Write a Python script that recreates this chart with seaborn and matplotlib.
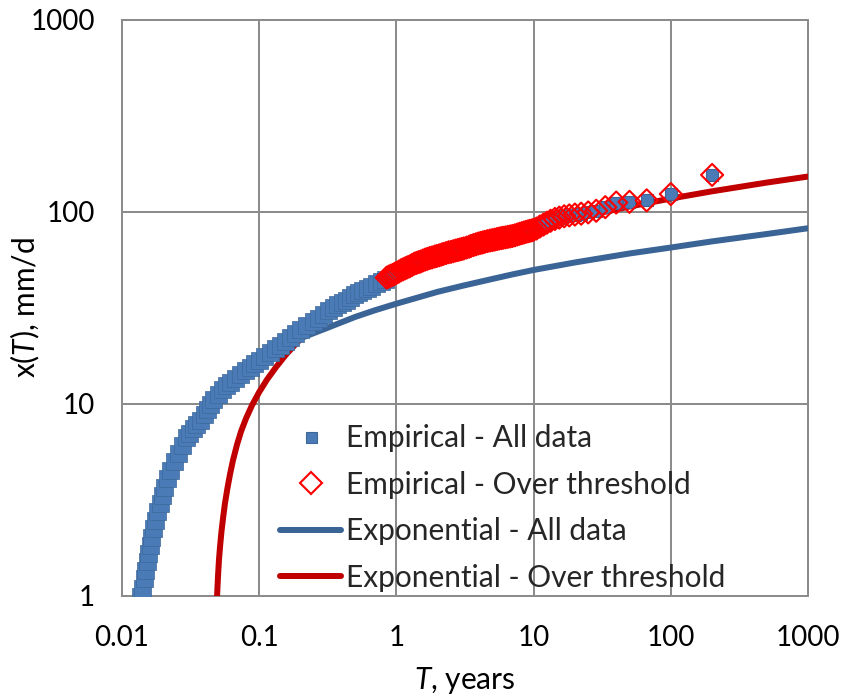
import matplotlib
matplotlib.use("Agg")
import matplotlib.pyplot as plt
from matplotlib.lines import Line2D
import pandas as pd
import seaborn as sns

# Empirical return periods T (years) and daily rainfall x (mm/d): lower part of the all-data sample
T_all_low = [0.0135, 0.0140, 0.0145, 0.0148, 0.0152, 0.0156, 0.0160, 0.0164, 0.0168, 0.0174,
             0.0180, 0.0188, 0.0196, 0.0204, 0.0213, 0.0224, 0.0239, 0.0258, 0.0276, 0.0295,
             0.0310, 0.0329, 0.0349, 0.0370, 0.0393, 0.0417, 0.0438, 0.0461, 0.0497, 0.0536,
             0.0573, 0.0613, 0.0666, 0.0725, 0.0788, 0.0857, 0.0924, 0.100, 0.109, 0.120,
             0.130, 0.142, 0.154, 0.168, 0.182, 0.198, 0.221, 0.247, 0.268, 0.292,
             0.317, 0.345, 0.372, 0.401, 0.429, 0.459, 0.491, 0.525, 0.566, 0.611,
             0.658, 0.710, 0.766, 0.826]
x_all_low = [1.00, 1.10, 1.24, 1.37, 1.52, 1.67, 1.84, 2.03, 2.26, 2.49,
             2.77, 3.05, 3.36, 3.70, 4.12, 4.53, 5.05, 5.56, 6.12, 6.73,
             7.10, 7.50, 7.87, 8.26, 8.82, 9.42, 10.0, 10.6, 11.3, 12.0,
             12.5, 13.0, 13.7, 14.3, 15.0, 15.6, 16.3, 16.9, 17.8, 18.7,
             19.5, 20.3, 21.3, 22.3, 23.4, 24.6, 25.8, 27.1, 28.2, 29.4,
             30.7, 32.0, 33.0, 34.0, 35.0, 36.1, 37.2, 38.3, 39.3, 40.2,
             41.4, 42.7, 43.7, 44.8]

# Observations over the threshold (they also belong to the all-data sample)
T_over = [0.85, 0.88, 0.91, 0.94, 0.97, 1.00, 1.04, 1.08, 1.12, 1.16,
          1.20, 1.25, 1.30, 1.35, 1.40, 1.45, 1.50, 1.56, 1.62, 1.68,
          1.75, 1.82, 1.90, 1.97, 2.05, 2.13, 2.20, 2.30, 2.40, 2.50,
          2.60, 2.70, 2.80, 2.90, 3.00, 3.10, 3.25, 3.40, 3.50, 3.65,
          3.80, 3.95, 4.10, 4.25, 4.40, 4.60, 4.80, 5.00, 5.20, 5.40,
          5.60, 5.80, 6.00, 6.25, 6.50, 6.75, 7.00, 7.30, 7.60, 7.90,
          8.20, 8.50, 8.80, 9.10, 9.40, 9.70, 10.0, 10.5, 11.1, 11.8,
          12.5, 13.3, 14.3, 15.4, 16.7, 18.2, 20.0, 22.2, 25.0, 28.6,
          33.3, 40.0, 50.0, 66.7, 100.0, 200.0]
x_over = [45.5, 46.1, 46.6, 47.0, 47.6, 48.2, 48.9, 49.7, 50.3, 50.9,
          51.5, 52.1, 53.0, 53.8, 54.3, 54.8, 55.2, 55.9, 56.5, 57.0,
          57.6, 58.0, 58.6, 59.0, 59.5, 60.0, 60.5, 61.1, 61.7, 62.0,
          62.5, 63.0, 63.4, 63.8, 64.2, 64.6, 65.3, 66.0, 66.6, 67.3,
          67.9, 68.5, 69.0, 69.4, 69.9, 70.5, 71.0, 71.4, 71.8, 72.3,
          72.7, 73.1, 73.4, 73.8, 74.2, 74.6, 75.0, 75.6, 76.3, 77.0,
          77.6, 78.2, 78.8, 79.3, 79.8, 80.2, 80.8, 82.0, 84.0, 86.0,
          88.0, 90.0, 92.0, 93.5, 95.0, 96.0, 97.0, 98.0, 99.5, 101.5,
          106.0, 112.0, 113.0, 115.0, 124.0, 156.0]

# Fitted exponential distribution, all data
T_fit_all = [0.0137, 0.015, 0.0175, 0.02, 0.025, 0.03, 0.04, 0.05, 0.07, 0.1,
             0.15, 0.2, 0.3, 0.5, 0.7, 1, 2, 3, 5, 7,
             10, 20, 50, 100, 200, 500, 1000]
x_fit_all = [1.0, 1.7, 2.8, 3.8, 5.4, 6.8, 8.9, 10.6, 13.2, 15.9,
             19.4, 22.0, 24.6, 28.4, 30.8, 33.3, 38.4, 41.2, 44.8, 47.3,
             49.9, 54.6, 60.8, 65.3, 70.3, 76.8, 82.3]

# Fitted exponential distribution, over threshold
T_fit_over = [0.0493, 0.0501, 0.0509, 0.0518, 0.0531, 0.0545, 0.0563, 0.0588, 0.0613, 0.0644,
              0.0689, 0.0737, 0.0801, 0.0886, 0.0997, 0.114, 0.133, 0.157, 0.189, 0.235,
              0.3, 0.5, 0.7, 1, 2, 5, 10, 20, 50, 100,
              200, 500, 1000]
x_fit_over = [1.0, 1.27, 1.54, 1.80, 2.17, 2.54, 3.04, 3.67, 4.31, 5.09,
              6.14, 7.19, 8.40, 9.84, 11.5, 13.4, 15.6, 18.1, 20.9, 24.4,
              28.0, 35.9, 41.1, 46.6, 57.2, 71.4, 82.0, 92.7, 106.8, 117.5,
              128.2, 142.3, 153.0]

x_ticks = [0.01, 0.1, 1, 10, 100, 1000]
x_tick_labels = ["0.01", "0.1", "1", "10", "100", "1000"]
y_ticks = [1, 10, 100, 1000]
y_tick_labels = ["1", "10", "100", "1000"]
legend_labels = ["Empirical - All data", "Empirical - Over threshold",
                 "Exponential - All data", "Exponential - Over threshold"]

all_data = pd.DataFrame({"T": T_all_low + T_over, "x": x_all_low + x_over})
over_data = pd.DataFrame({"T": T_over, "x": x_over})
fit_all = pd.DataFrame({"T": T_fit_all, "x": x_fit_all})
fit_over = pd.DataFrame({"T": T_fit_over, "x": x_fit_over})

sns.set_theme(style="white")
plt.rcParams["font.family"] = ["Lato", "DejaVu Sans"]
plt.rcParams["mathtext.fontset"] = "custom"
plt.rcParams["mathtext.it"] = "Lato:italic"
plt.rcParams["mathtext.rm"] = "Lato"

FS_TICK = 20
FS_TEXT = 21.5
GRID = "#8c8c8c"
BLUE_MK = "#4a7bb7"
BLUE_MK_EDGE = "#3d6899"
BLUE_LINE = "#3a6396"
RED_LINE = "#c00000"
RED_MK = "#ff0000"

px = 72 / 100  # points per pixel at 100 dpi

fig = plt.figure(figsize=(8.42, 6.97), dpi=100)
ax = fig.add_axes([122 / 842, 1 - 596 / 697, (808 - 122) / 842, (596 - 20) / 697])
ax.set_xscale("log")
ax.set_yscale("log")

sns.lineplot(data=fit_all, x="T", y="x", sort=False, estimator=None, ax=ax,
             color=BLUE_LINE, linewidth=6 * px, solid_capstyle="round", zorder=3)
sns.lineplot(data=fit_over, x="T", y="x", sort=False, estimator=None, ax=ax,
             color=RED_LINE, linewidth=6 * px, solid_capstyle="round",
             solid_joinstyle="round", zorder=3.1)

# dense lower part of the sample forms a thick band, the upper tail shows single squares
dense = all_data["T"] < 0.85
sns.scatterplot(data=all_data[dense], x="T", y="x", ax=ax, marker="s",
                s=(17 * px) ** 2, color=BLUE_MK, edgecolor=BLUE_MK_EDGE,
                linewidth=0.5, zorder=4)
sns.scatterplot(data=all_data[~dense], x="T", y="x", ax=ax, marker="s",
                s=(12 * px) ** 2, color=BLUE_MK, edgecolor=BLUE_MK_EDGE,
                linewidth=0.8, zorder=4)
sns.scatterplot(data=over_data, x="T", y="x", ax=ax, marker="D",
                s=(15.6 * px) ** 2, facecolor="none", edgecolor=RED_MK,
                linewidth=2.1 * px, zorder=5)

ax.set_xlim(0.01, 1000)
ax.set_ylim(1, 1000)
ax.set_xticks(x_ticks)
ax.set_xticklabels(x_tick_labels)
ax.set_yticks(y_ticks)
ax.set_yticklabels(y_tick_labels)
ax.minorticks_off()
ax.grid(True, which="major", color=GRID, linewidth=2 * px, zorder=0)
ax.set_axisbelow(True)
for sp in ax.spines.values():
    sp.set_color(GRID)
    sp.set_linewidth(2 * px)
ax.tick_params(axis="both", which="major", direction="out", length=7 * px,
               width=2 * px, color=GRID, labelsize=FS_TICK, labelcolor="black")
ax.tick_params(axis="x", pad=22 * px)
ax.tick_params(axis="y", pad=20 * px)

ax.set_xlabel(r"$\mathit{T}$, years", fontsize=FS_TEXT, color="black")
ax.set_ylabel(r"x($\mathit{T}$), mm/d", fontsize=FS_TEXT, color="black")
ax.xaxis.set_label_coords(0.5, -0.12)
ax.yaxis.set_label_coords(-0.117, 0.5)

handles = [
    Line2D([], [], linestyle="none", marker="s", markersize=11 * px,
           markerfacecolor=BLUE_MK, markeredgecolor=BLUE_MK_EDGE, markeredgewidth=0.8),
    Line2D([], [], linestyle="none", marker="D", markersize=15.6 * px,
           markerfacecolor="none", markeredgecolor=RED_MK, markeredgewidth=2.1 * px),
    Line2D([], [], color=BLUE_LINE, linewidth=6 * px, solid_capstyle="round"),
    Line2D([], [], color=RED_LINE, linewidth=6 * px, solid_capstyle="round"),
]
ax.legend(handles, legend_labels, loc="upper left",
          bbox_to_anchor=(280 / 842, 1 - 424 / 697), bbox_transform=fig.transFigure,
          frameon=False, fontsize=FS_TEXT, handlelength=2.05, handletextpad=0.15,
          labelspacing=0.62, borderpad=0, borderaxespad=0)

fig.savefig("out.png", dpi=100)
